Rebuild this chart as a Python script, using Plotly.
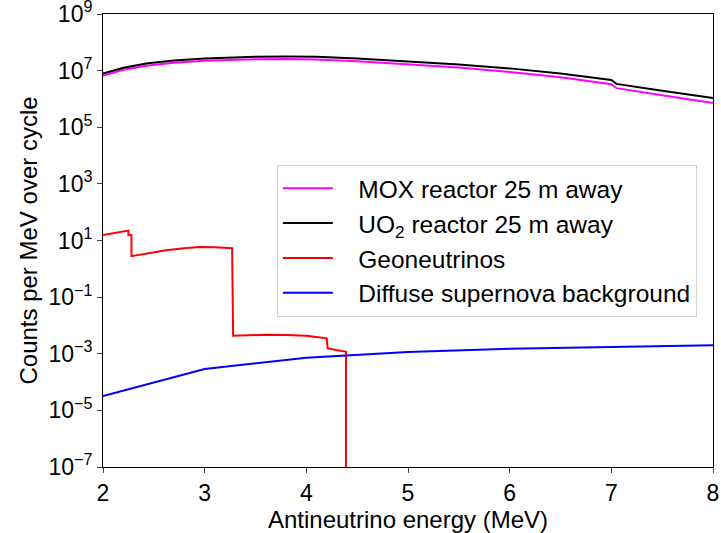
import plotly.graph_objects as go

# Reactor spectra
energy_reactor = [2.0, 2.2, 2.44, 2.7, 3.0, 3.25, 3.5, 3.8, 4.1, 4.5, 5.0, 5.5, 6.0, 6.5, 7.0, 7.05, 7.5, 8.0]
uo2_counts = [7.9e6, 1.26e7, 1.82e7, 2.29e7, 2.69e7, 2.95e7, 3.09e7, 3.16e7, 3.09e7, 2.69e7, 2.14e7,
              1.66e7, 1.20e7, 7.9e6, 4.7e6, 3.4e6, 1.95e6, 1.07e6]
mox_counts = [6.6e6, 1.07e7, 1.51e7, 1.9e7, 2.24e7, 2.4e7, 2.5e7, 2.57e7, 2.45e7, 2.14e7, 1.7e7,
              1.29e7, 8.9e6, 5.8e6, 3.3e6, 2.4e6, 1.35e6, 7.2e5]

# Geoneutrinos
energy_geo = [2.0, 2.1, 2.25, 2.25, 2.28, 2.28, 2.45, 2.62, 2.8, 2.95, 3.1, 3.27, 3.28,
              3.45, 3.61, 3.8, 4.0, 4.2, 4.21, 4.39, 4.39]
geo_counts = [15.5, 18.0, 22.4, 15.5, 15.5, 2.8, 3.6, 4.5, 5.3, 5.9, 5.8, 5.3, 4.3e-3,
              4.6e-3, 4.7e-3, 4.6e-3, 4.3e-3, 3.5e-3, 1.55e-3, 1.17e-3, 1e-12]

# Diffuse supernova background
energy_dsnb = [2, 3, 4, 5, 6, 7, 8]
dsnb_counts = [3.2e-5, 2.9e-4, 7.2e-4, 1.15e-3, 1.5e-3, 1.75e-3, 2.0e-3]

y_tickvals = [1e-7, 1e-5, 1e-3, 1e-1, 1e1, 1e3, 1e5, 1e7, 1e9]
y_ticktext = ["10<sup>−7</sup>", "10<sup>−5</sup>", "10<sup>−3</sup>", "10<sup>−1</sup>",
              "10<sup>1</sup>", "10<sup>3</sup>", "10<sup>5</sup>", "10<sup>7</sup>", "10<sup>9</sup>"]
x_tickvals = [2, 3, 4, 5, 6, 7, 8]

pad = "\u00a0\u00a0\u00a0"
fig = go.Figure()
fig.add_trace(go.Scatter(x=energy_reactor, y=mox_counts, mode="lines", name=pad + "MOX reactor 25 m away",
                         line=dict(color="#ff00ff", width=2), legendgroup="a"))
fig.add_trace(go.Scatter(x=energy_reactor, y=uo2_counts, mode="lines", name=pad + "UO<sub>2</sub> reactor 25 m away",
                         line=dict(color="black", width=2), legendgroup="b"))
fig.add_trace(go.Scatter(x=energy_geo, y=geo_counts, mode="lines", name=pad + "Geoneutrinos",
                         line=dict(color="#ff0000", width=2), legendgroup="c"))
fig.add_trace(go.Scatter(x=energy_dsnb, y=dsnb_counts, mode="lines", name=pad + "Diffuse supernova background",
                         line=dict(color="#0000ff", width=2), legendgroup="d"))

font_family = "Liberation Sans, Arial, sans-serif"
fig.update_layout(
    width=721, height=533,
    margin=dict(l=103, r=8, t=14, b=66, autoexpand=False),
    paper_bgcolor="white", plot_bgcolor="white",
    font=dict(family=font_family, size=24, color="black"),
    showlegend=True,
    legend=dict(x=0.285, y=0.667, xanchor="left", yanchor="top",
                bordercolor="#d0d0d0", borderwidth=1, bgcolor="rgba(255,255,255,0.8)",
                font=dict(size=24.5), tracegroupgap=0, itemwidth=50),
    xaxis=dict(range=[2, 8], tickvals=x_tickvals, ticks="outside", ticklen=5, tickwidth=1,
               showline=True, linecolor="black", linewidth=1, mirror=True, showgrid=False,
               zeroline=False, tickfont=dict(size=23), automargin=False,
               title=dict(text="Antineutrino energy (MeV)", font=dict(size=24), standoff=4)),
    yaxis=dict(type="log", range=[-7, 9], tickvals=y_tickvals, ticktext=y_ticktext,
               ticks="outside", ticklen=5, tickwidth=1, ticklabeloverflow="allow",
               showline=True, linecolor="black", linewidth=1, mirror=True, showgrid=False,
               zeroline=False, tickfont=dict(size=23), automargin=False,
               title=dict(text="Counts per MeV over cycle", font=dict(size=24), standoff=4)),
)

fig.write_html("out.html")
